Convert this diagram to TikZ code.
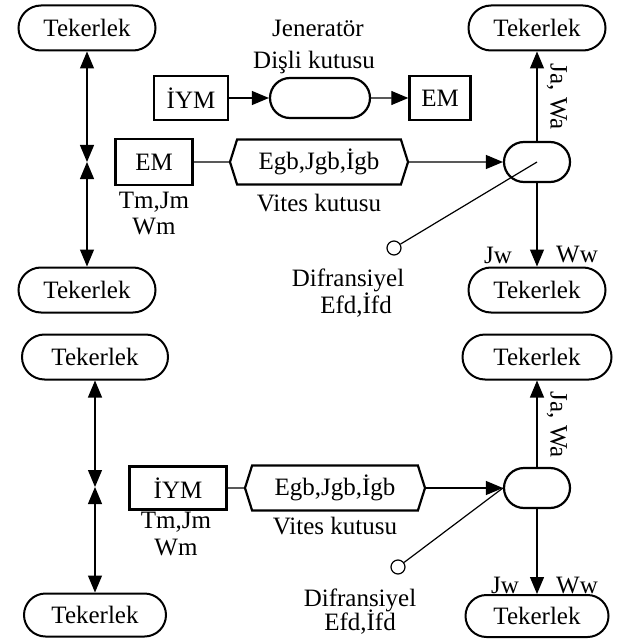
\documentclass[tikz,border=0pt]{standalone}
\usepackage{fontspec}
\setmainfont{Liberation Serif}
\usetikzlibrary{arrows.meta,shapes.misc,shapes.symbols}

\begin{document}
\begin{tikzpicture}[x=1pt,y=-1pt,
	font=\fontsize{25}{26}\selectfont,
	every node/.style={inner sep=0pt},
	wheel/.style={rounded rectangle,draw,line width=2pt,minimum height=45pt,minimum width=137pt},
	pill/.style={rounded rectangle,draw,line width=2.2pt,minimum height=40pt,minimum width=66pt},
	unit/.style={rectangle,draw,line width=2.4pt,minimum height=44pt},
	gear/.style={signal,signal to=east and west,signal pointer angle=145,draw,line width=2.2pt,minimum height=45pt,minimum width=178pt},
	lnk/.style={line width=1.2pt},
	arr/.style={lnk,-{Triangle[length=17pt,width=14pt]}},
	dbl/.style={lnk,{Triangle[length=17pt,width=14pt]}-{Triangle[length=17pt,width=14pt]}}]
	\useasboundingbox (0,0) rectangle (623,639);
	% upper drive
	\node[wheel] (wTL) at (87,28) {Tekerlek};
	\node[wheel] (wBL) at (87,290) {Tekerlek};
	\coordinate (mL) at (87,162);
	\draw[dbl] (wTL) -- (mL);
	\draw[dbl] (mL) -- (wBL);
	\node (gen) at (318,28) {Jeneratör};
	\node (gbx) at (314,62) {Dişli kutusu};
	\node[unit,minimum width=74pt] (iym) at (191,98) {İYM};
	\node[pill,minimum width=100pt] (genb) at (320,98) {};
	\node[unit,minimum width=61pt] (em) at (440,98) {EM};
	\draw[arr] (iym) -- (genb);
	\draw[arr] (genb) -- (em);
	\node[unit,minimum width=77pt,minimum height=46pt] (em2) at (154,162) {EM};
	\node (tjm) at (154,202) {Tm,Jm};
	\node (wm) at (154,227) {Wm};
	\node[gear] (vk) at (319,162) {Egb,Jgb,İgb};
	\node (vkl) at (319,203) {Vites kutusu};
	\node[pill] (dif) at (537,162) {};
	\node[wheel] (wTR) at (537,28) {Tekerlek};
	\node[wheel] (wBR) at (537,290) {Tekerlek};
	\draw[lnk] (em2) -- (vk);
	\draw[arr] (vk) -- (dif);
	\draw[arr] (dif) -- (wTR);
	\draw[arr] (dif) -- (wBR);
	\node[rotate=-90] (jawa) at (557,97) {Ja, Wa};
	\node (jw) at (498,255) {Jw};
	\node (ww) at (577,255) {Ww};
	\node[circle,draw,line width=1.2pt,minimum size=14pt] (fd) at (394,248) {};
	\draw[lnk] (fd) -- (dif.center);
	\node (dfl) at (348,280) {Difransiyel};
	\node (efd) at (356,305) {Efd,İfd};
	% lower drive
	\node[wheel,minimum width=146pt] (wTL2) at (95,357) {Tekerlek};
	\node[wheel,minimum width=142pt,minimum height=43pt] (wBL2) at (95,615) {Tekerlek};
	\coordinate (mL2) at (95,487);
	\draw[dbl] (wTL2) -- (mL2);
	\draw[dbl] (mL2) -- (wBL2);
	\node[unit,minimum width=97pt,minimum height=43pt] (iym2) at (178,488) {İYM};
	\node (tjm2) at (176,522) {Tm,Jm};
	\node (wm2) at (176,547) {Wm};
	\node[gear,minimum width=180pt] (vk2) at (335,488) {Egb,Jgb,İgb};
	\node (vkl2) at (335,526) {Vites kutusu};
	\node[pill] (dif2) at (537,488) {};
	\node[wheel,minimum width=149pt] (wTR2) at (537,357) {Tekerlek};
	\node[wheel,minimum width=143pt,minimum height=42pt] (wBR2) at (537,616) {Tekerlek};
	\draw[lnk] (iym2) -- (vk2);
	\draw[arr] (vk2) -- (dif2);
	\draw[arr] (dif2) -- (wTR2);
	\draw[arr] (dif2) -- (wBR2);
	\node[rotate=-90] (jawa2) at (557,425) {Ja, Wa};
	\node (jw2) at (505,585) {Jw};
	\node (ww2) at (577,585) {Ww};
	\node[circle,draw,line width=1.2pt,minimum size=14pt] (fd2) at (398,567) {};
	\draw[lnk] (fd2) -- (dif2.west);
	\node (dfl2) at (360,600) {Difransiyel};
	\node (efd2) at (360,622) {Efd,İfd};
\end{tikzpicture}
\end{document}
